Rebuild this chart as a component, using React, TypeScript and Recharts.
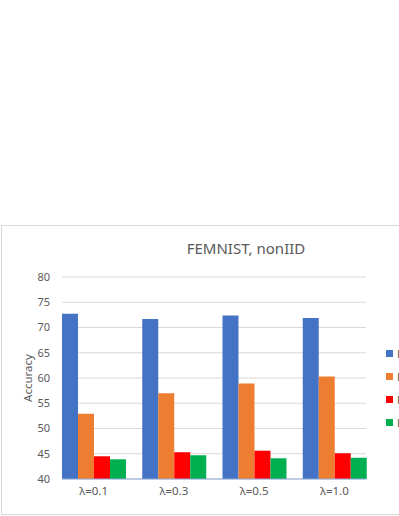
import React from "react"
import { BarChart, Bar, XAxis, YAxis, CartesianGrid } from "recharts"

const categories = ["λ=0.1", "λ=0.3", "λ=0.5", "λ=1.0"]
const seriesNames = ["Proposed", "FedAvg", "FedProx", "Local"]
const seriesColors = ["#4472C4", "#ED7D31", "#FF0000", "#00B050"]
const proposed = [72.7, 71.7, 72.4, 71.9]
const fedAvg = [52.9, 57.0, 58.9, 60.3]
const fedProx = [44.5, 45.3, 45.6, 45.1]
const local = [43.9, 44.7, 44.1, 44.2]
const yTicks = [40, 45, 50, 55, 60, 65, 70, 75, 80]

const seriesValues = [proposed, fedAvg, fedProx, local]
const keys = ["s0", "s1", "s2", "s3"]

const data = categories.map((name, i) => {
  const row: Record<string, string | number> = { name }
  seriesValues.forEach((vals, s) => {
    row[keys[s]] = vals[i]
  })
  return row
})

const font = "'Noto Sans', 'Open Sans', sans-serif"
const textColor = "#595959"

export default function App() {
  return (
    <div style={{ position: "absolute", left: 0, top: 0, width: 470, height: 516, fontFamily: font }}>
      <div
        style={{
          position: "absolute",
          left: 1,
          top: 225,
          width: 470,
          height: 288,
          border: "1px solid #D9D9D9",
          background: "#fff",
        }}
      />
      <div
        style={{
          position: "absolute",
          left: 0,
          width: 492,
          top: 238,
          textAlign: "center",
          fontSize: 15,
          color: textColor,
        }}
      >
        FEMNIST, nonIID
      </div>
      <div style={{ position: "absolute", left: 0, top: 0 }}>
        <BarChart
          width={470}
          height={516}
          data={data}
          margin={{ top: 277, right: 104, left: 12, bottom: 7 }}
          barGap={0}
          barCategoryGap={8.5}
        >
          <CartesianGrid vertical={false} stroke="#D9D9D9" />
          <XAxis
            dataKey="name"
            height={30}
            padding={{ left: -8.5, right: -8.5 }}
            tickLine={false}
            axisLine={{ stroke: "#8EA9DB" }}
            tick={{ fill: textColor, fontSize: 11.5, fontFamily: font }}
          />
          <YAxis
            width={50}
            domain={[40, 80]}
            ticks={yTicks}
            interval={0}
            axisLine={false}
            tickLine={false}
            tickMargin={6}
            tick={{ fill: textColor, fontSize: 11, fontFamily: font }}
            label={{
              value: "Accuracy",
              angle: -90,
              position: "insideLeft",
              offset: 16,
              style: { fill: textColor, fontSize: 11.5, fontFamily: font, textAnchor: "middle" },
            }}
          />
          {keys.map((k, s) => (
            <Bar key={k} dataKey={k} name={seriesNames[s]} fill={seriesColors[s]} isAnimationActive={false} />
          ))}
        </BarChart>
      </div>
      {seriesNames.map((n, s) => (
        <div
          key={n}
          style={{
            position: "absolute",
            left: 386,
            top: 346 + s * 23,
            height: 14,
            display: "flex",
            alignItems: "center",
            fontSize: 11,
            color: textColor,
            whiteSpace: "nowrap",
          }}
        >
          <span style={{ display: "inline-block", width: 7, height: 7, background: seriesColors[s], marginRight: 4 }} />
          {n}
        </div>
      ))}
    </div>
  )
}
